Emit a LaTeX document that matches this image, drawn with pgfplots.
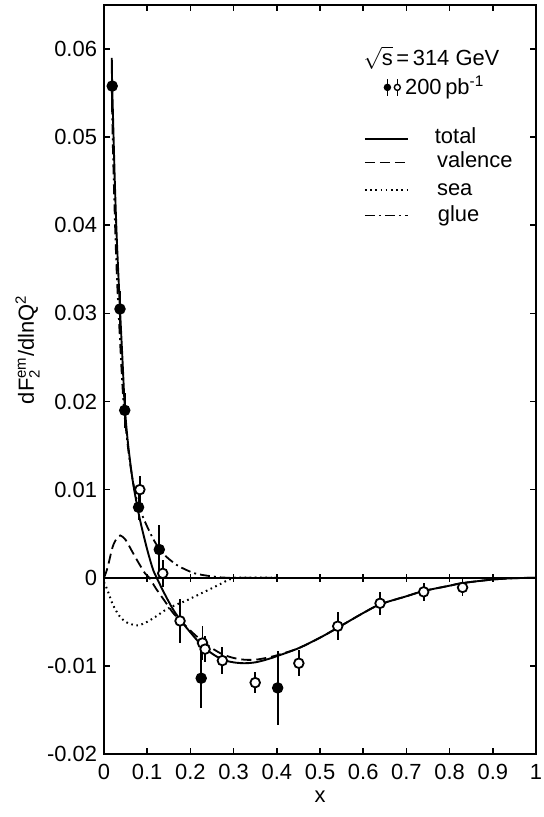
\documentclass[border=0pt]{standalone}
\usepackage{fontspec}
\setmainfont{Liberation Sans}
\usepackage{pgfplots}
\usepackage{pgfplotstable}
\pgfplotsset{compat=1.18}
\usetikzlibrary{calc}

% curves
\pgfplotstableread{
x y
0.018 0.0590
0.019 0.0558
0.025 0.0450
0.030 0.0380
0.037 0.0305
0.043 0.0245
0.048 0.0195
0.055 0.0155
0.065 0.0115
0.075 0.0086
0.085 0.0062
0.100 0.0032
0.113 0.0010
0.122 0.0
0.140 -0.0018
0.160 -0.0036
0.180 -0.0050
0.200 -0.0062
0.225 -0.0076
0.250 -0.0086
0.275 -0.0093
0.300 -0.0096
0.325 -0.0097
0.350 -0.0096
0.375 -0.0093
0.400 -0.0089
0.450 -0.0080
0.500 -0.0068
0.540 -0.0057
0.600 -0.0040
0.640 -0.0030
0.700 -0.0021
0.740 -0.0015
0.800 -0.0009
0.830 -0.0006
0.900 -0.0002
0.950 -0.00005
1.000 0.0
}\total

\pgfplotstableread{
x y
0.000 0.0
0.008 0.0011
0.020 0.0035
0.030 0.0045
0.038 0.0048
0.050 0.0043
0.065 0.0030
0.080 0.0017
0.095 0.0005
0.105 0.0
0.120 -0.0012
0.140 -0.0026
0.160 -0.0040
0.180 -0.0050
0.200 -0.0060
0.225 -0.0071
0.250 -0.0080
0.275 -0.0087
0.300 -0.0091
0.325 -0.0093
0.350 -0.0093
0.375 -0.0091
0.400 -0.0088
0.450 -0.0080
0.500 -0.0068
0.540 -0.0057
0.600 -0.0040
0.640 -0.0030
0.700 -0.0021
0.740 -0.0015
0.800 -0.0009
0.830 -0.0006
0.900 -0.0002
0.950 -0.00005
1.000 0.0
}\valence

\pgfplotstableread{
x y
0.000 -0.0005
0.008 -0.0014
0.020 -0.0030
0.035 -0.0043
0.050 -0.0050
0.065 -0.0053
0.080 -0.0054
0.100 -0.0050
0.120 -0.0044
0.144 -0.0036
0.170 -0.0030
0.190 -0.0026
0.228 -0.0017
0.266 -0.0008
0.290 -0.0002
0.310 0.0
0.400 0.0
}\sea

\pgfplotstableread{
x y
0.018 0.0560
0.020 0.0500
0.025 0.0410
0.030 0.0340
0.037 0.0270
0.045 0.0200
0.055 0.0150
0.065 0.0115
0.075 0.0090
0.086 0.0074
0.100 0.0058
0.115 0.0043
0.128 0.0033
0.140 0.0026
0.151 0.0021
0.170 0.0014
0.190 0.0009
0.210 0.0005
0.230 0.0003
0.260 0.0001
0.290 0.0
0.400 0.0
}\glue

\begin{document}
\begin{tikzpicture}
\begin{axis}[
  width=216bp, height=374.5bp, scale only axis,
  xmin=0, xmax=1, ymin=-0.02, ymax=0.065,
  xtick={0,0.1,0.2,0.3,0.4,0.5,0.6,0.7,0.8,0.9,1},
  xticklabels={0,0.1,0.2,0.3,0.4,0.5,0.6,0.7,0.8,0.9,1},
  ytick={-0.02,-0.01,0,0.01,0.02,0.03,0.04,0.05,0.06},
  yticklabels={-0.02,-0.01,0,0.01,0.02,0.03,0.04,0.05,0.06},
  tick align=inside, major tick length=3bp,
  axis line style={line width=1.1bp},
  tick style={line width=0.8bp, black},
  ticklabel style={font=\fontsize{11}{13}\selectfont},
  xticklabel style={yshift=-1.5bp},
  xlabel={x},
  xlabel style={font=\fontsize{11}{13}\selectfont, at={(axis description cs:0.5,-0.057)}, anchor=center},
  ylabel={dF$^{\mbox{\fontsize{7.5}{8}\selectfont em}}_{\mbox{\fontsize{7.5}{8}\selectfont 2}}$/dlnQ$^{\mbox{\fontsize{7.5}{8}\selectfont 2}}$},
  ylabel style={font=\fontsize{11}{13}\selectfont, at={(axis description cs:-0.177,0.54)}, anchor=center},
  clip=false,
]

% zero line with crossing ticks
\draw[line width=0.8bp] (axis cs:0,0) -- (axis cs:1,0);
\pgfplotsinvokeforeach{0.1,0.2,0.3,0.4,0.5,0.6,0.7,0.8,0.9}{
  \draw[line width=0.8bp] (axis cs:#1,-0.00045) -- (axis cs:#1,0.00045);
}

\addplot[black, line width=0.95bp, smooth, no marks] table {\total};
\addplot[black, line width=0.9bp, smooth, no marks, dash pattern=on 5bp off 2.5bp] table {\valence};
\addplot[black, line width=1bp, smooth, no marks, dash pattern=on 0.8bp off 1.8bp] table {\sea};
\addplot[black, line width=0.9bp, smooth, no marks, dash pattern=on 5bp off 2bp on 1bp off 2bp] table {\glue};

% filled points
\addplot[black, only marks, mark=*, mark size=2.4bp, line width=0.9bp,
  error bars/.cd, y dir=both, y explicit, error mark=none,
  error bar style={line width=0.9bp}]
  coordinates {
    (0.019, 0.0558) +- (0, 0.0030)
    (0.037, 0.0305) +- (0, 0.0020)
    (0.048, 0.0190) +- (0, 0.0020)
    (0.080, 0.0080) +- (0, 0.0015)
    (0.128, 0.0032) +- (0, 0.0028)
    (0.225, -0.0114) +- (0, 0.0034)
    (0.402, -0.0125) +- (0, 0.0042)
  };

% open points
\addplot[black, only marks, mark=*, mark size=2.4bp, line width=0.9bp,
  mark options={fill=white, draw=black, line width=0.9bp},
  error bars/.cd, y dir=both, y explicit, error mark=none,
  error bar style={line width=0.9bp}]
  coordinates {
    (0.083, 0.0100) +- (0, 0.0016)
    (0.136, 0.0005) +- (0, 0.0015)
    (0.176, -0.0049) +- (0, 0.0025)
    (0.228, -0.0074) +- (0, 0.0019)
    (0.234, -0.0081) +- (0, 0.0015)
    (0.274, -0.0094) +- (0, 0.0015)
    (0.350, -0.0119) +- (0, 0.0012)
    (0.451, -0.0097) +- (0, 0.0015)
    (0.541, -0.0055) +- (0, 0.0016)
    (0.639, -0.0029) +- (0, 0.0013)
    (0.740, -0.0016) +- (0, 0.0010)
    (0.830, -0.0011) +- (0, 0.0010)
  };

% legend
\node[anchor=west, font=\fontsize{11}{13}\selectfont, inner sep=0pt] at (axis cs:0.600,0.0590)
  {$\sqrt{\mbox{s}}$\,=\,314 GeV};
\addplot[black, only marks, mark=*, mark size=1.5bp, line width=0.7bp,
  error bars/.cd, y dir=both, y explicit, error mark=none, error bar style={line width=0.7bp}]
  coordinates {(0.656, 0.05565) +- (0, 0.0010)};
\addplot[black, only marks, mark=*, mark size=1.5bp, line width=0.7bp,
  mark options={fill=white, draw=black},
  error bars/.cd, y dir=both, y explicit, error mark=none, error bar style={line width=0.7bp}]
  coordinates {(0.679, 0.05565) +- (0, 0.0010)};
\node[anchor=west, font=\fontsize{11}{13}\selectfont, inner sep=0pt] at (axis cs:0.696,0.0556)
  {200\,pb\textsuperscript{-1}};

\draw[line width=0.9bp] (axis cs:0.604,0.04977) -- (axis cs:0.704,0.04977);
\draw[line width=0.9bp, dash pattern=on 5bp off 2.5bp] (axis cs:0.604,0.04712) -- (axis cs:0.704,0.04712);
\draw[line width=1bp, dash pattern=on 0.8bp off 1.8bp] (axis cs:0.604,0.04397) -- (axis cs:0.704,0.04397);
\draw[line width=0.9bp, dash pattern=on 5bp off 2bp on 1bp off 2bp] (axis cs:0.604,0.04110) -- (axis cs:0.704,0.04110);
\node[anchor=west, font=\fontsize{11}{13}\selectfont, inner sep=0pt] at (axis cs:0.765,0.0502) {total};
\node[anchor=west, font=\fontsize{11}{13}\selectfont, inner sep=0pt] at (axis cs:0.770,0.0474) {valence};
\node[anchor=west, font=\fontsize{11}{13}\selectfont, inner sep=0pt] at (axis cs:0.770,0.0440) {sea};
\node[anchor=west, font=\fontsize{11}{13}\selectfont, inner sep=0pt] at (axis cs:0.772,0.0411) {glue};

\end{axis}
\pgfresetboundingbox
\path[use as bounding box] ($(current axis.south west)+(-52bp,-31.5bp)$) rectangle ($(current axis.north east)+(3.5bp,2.5bp)$);
\end{tikzpicture}
\end{document}
